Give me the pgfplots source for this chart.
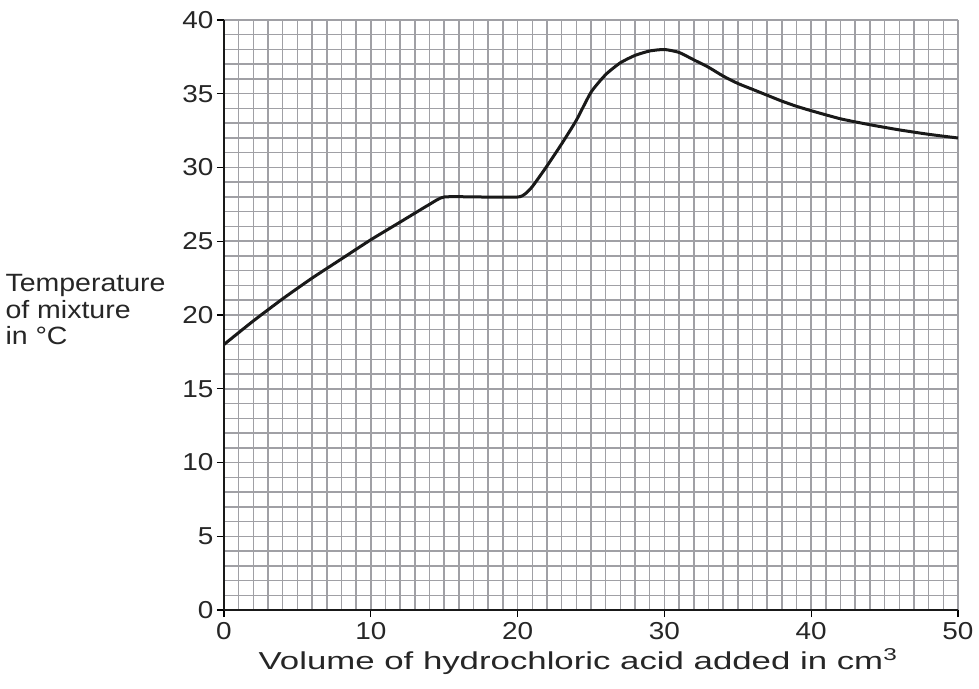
\documentclass[border=0pt]{standalone}
\usepackage{pgfplots}
\pgfplotsset{compat=1.18}
\usetikzlibrary{calc}
\usepackage{fontspec}
\setmainfont[FakeStretch=1.14]{Liberation Sans}
\newfontfamily\widefont[FakeStretch=1.42]{Liberation Sans}
\definecolor{gridgray}{RGB}{160,160,165}
\begin{document}
\begin{tikzpicture}
\begin{axis}[
  scale only axis,
  width=734pt, height=590pt,
  xmin=0, xmax=50, ymin=0, ymax=40,
  xtick={0,10,...,50}, ytick={0,5,...,40},
  minor x tick num=9, minor y tick num=4,
  grid=both,
  major grid style={gridgray, line width=1.5pt},
  minor grid style={gridgray, line width=1.5pt},
  axis lines=left,
  axis line style={-, black!90, line width=2.8pt},
  tick align=outside,
  major tick length=7pt, minor tick length=0pt,
  tick style={black, line width=1.3pt},
  /pgf/number format/assume math mode=true,
  tick label style={font=\fontsize{24.5}{27}\selectfont, text=black!85},
  xticklabel style={yshift=-2pt},
  label style={font=\widefont\fontsize{24.5}{27}\selectfont, text=black!85},
  xlabel={Volume of hydrochloric acid added in cm\textsuperscript{3}},
  xlabel style={yshift=-2pt, xshift=-13pt},
  clip=false,
]
\addplot[black!90, line width=3pt, smooth, tension=0.35] coordinates {
(0,18) (2,19.6) (4,21.1) (6,22.5) (8,23.8) (10,25.1) (12,26.3) (14,27.5) (15,28)
(17.5,28) (20,28) (20.5,28.2) (21,28.7) (22,30.1) (23,31.6) (24,33.2) (25,35.1)
(26,36.3) (27,37.1) (28,37.6) (29,37.9) (30,38) (31,37.8) (32,37.3) (33,36.8)
(34,36.2) (35,35.7) (36,35.3) (37,34.9) (38,34.5) (39,34.15) (40,33.85) (42,33.3)
(44,32.9) (46,32.55) (48,32.25) (50,32.0)
};
\node[anchor=west, align=left, font=\fontsize{25}{26.5}\selectfont, text=black!85, xshift=-222pt, yshift=5pt]
  at (rel axis cs:0,0.5) {Temperature\\of mixture\\in °C};
\end{axis}
\pgfresetboundingbox
\path[use as bounding box] ($(current axis.south west)+(-224pt,-78pt)$) rectangle ($(current axis.north east)+(21pt,20pt)$);
\end{tikzpicture}
\end{document}
